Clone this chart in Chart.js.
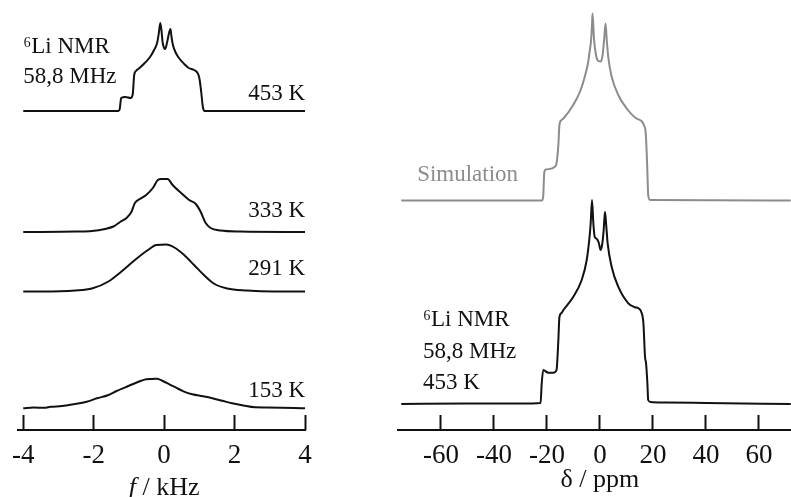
<!DOCTYPE html>
<html>
<head>
<meta charset="utf-8">
<script src="https://cdn.jsdelivr.net/npm/chart.js@4/dist/chart.umd.min.js"></script>
<style>
  html, body { margin: 0; padding: 0; background: #fff; overflow: hidden; }
  #left { position: absolute; left: 0; top: 0; }
  #right { position: absolute; left: 380px; top: 0; }
</style>
</head>
<body>
<canvas id="left" width="330" height="500"></canvas>
<canvas id="right" width="411" height="500"></canvas>
<script>
// left panel: 6Li spectra vs temperature, f in kHz, intensity in arbitrary units
const kHzTicks = [-4, -2, 0, 2, 4];
const spec453 = [[-4,0],[-1.3,0],[-1.26,2],[-1.22,13],[-1.1,14],[-0.95,13],[-0.89,17],[-0.85,36],[-0.8,40],[-0.7,43],[-0.55,48],[-0.4,54],[-0.3,60],[-0.2,68],[-0.15,78],[-0.11,88],[-0.08,82],[-0.04,68],[0,63],[0.03,62],[0.08,68],[0.14,78],[0.18,82],[0.21,74],[0.25,66],[0.32,59],[0.4,54],[0.57,47],[0.7,43],[0.85,41],[0.95,38],[1.0,33],[1.05,20],[1.1,4],[1.15,0],[4,0]];
const spec333 = [[-4,0],[-2.5,0.5],[-2.05,1],[-1.68,3],[-1.44,5.5],[-1.25,10],[-1.07,14],[-0.93,20],[-0.83,29],[-0.69,33],[-0.51,37],[-0.32,44],[-0.18,52],[-0.08,53],[0.1,53],[0.24,47],[0.48,39],[0.71,32],[0.9,28],[1.04,20],[1.18,9],[1.32,4],[1.6,1.5],[2.16,0.5],[4,0]];
const spec291 = [[-4,0],[-3.46,0],[-2.52,1],[-2.05,3],[-1.58,10],[-1.21,20],[-0.83,31.5],[-0.46,41.5],[-0.22,46.5],[0.06,47],[0.29,44],[0.57,36.5],[0.85,26.5],[1.13,16.5],[1.41,8],[1.79,3],[2.35,1],[3.1,0],[4,0]];
const spec153 = [[-4,0],[-3.7,0.8],[-3.4,0.5],[-3.22,1.6],[-2.9,2.2],[-2.57,4],[-2.2,6.5],[-1.91,10],[-1.6,13],[-1.35,17.3],[-1.1,21],[-0.88,24.3],[-0.65,27.5],[-0.51,29],[-0.32,29.3],[-0.2,29.6],[-0.04,27.3],[0.15,24],[0.34,20.6],[0.55,17],[0.8,14],[1.1,12],[1.37,10],[1.65,7.5],[1.93,5],[2.25,2.8],[2.58,1],[2.9,0.8],[3.33,0.6],[3.7,0.3],[4,0]];

// right panel: simulation and 453 K spectrum, delta in ppm
const ppmTicks = [-60, -40, -20, 0, 20, 40, 60];
const specSim = [[-75,0],[-21.8,0],[-21.4,5],[-21.0,28.8],[-20.4,31],[-17,33.8],[-16.4,37],[-15.7,55.5],[-15.3,75.5],[-14.5,80.5],[-13.8,82],[-10.1,95.5],[-7.5,109],[-5.7,124],[-4.4,139],[-3.9,149],[-3.4,159],[-3.0,175.5],[-2.8,187],[-2.26,162],[-1.5,145.5],[-0.6,139.5],[0.25,139],[1.0,145.5],[1.6,162],[2.1,177],[2.6,159],[3.2,142],[4.4,124],[6.9,105.5],[10.1,92],[13.8,82],[17,72.8],[17.4,62],[17.9,28.8],[18.2,5.5],[18.9,0.5],[72,0]];
const specExp = [[-75,0],[-50,0.5],[-30,0.5],[-22.4,1],[-22,20],[-21.4,34],[-19.5,31.3],[-17.6,31.3],[-16.4,34],[-15.7,64],[-15.3,87],[-14.5,91],[-13.8,94],[-10.1,107],[-6.9,124],[-5,144],[-3.8,170.7],[-3.5,180.7],[-3.0,204],[-2.5,180.7],[-2.0,167.3],[-1.5,165.7],[-0.9,164],[-0.4,160.7],[0.25,154],[0.9,160.7],[1.4,174],[1.9,192.3],[2.4,177.3],[2.9,160.7],[4.4,137.3],[6.9,117.3],[10.7,100.7],[13.2,96.7],[14.5,95.7],[15.7,91.3],[16.4,80.7],[17.0,47.3],[17.4,40.7],[17.9,20.7],[18.2,4],[19.1,2],[25,1.5],[40,1],[72,0]];

const serif = '"Liberation Serif", "DejaVu Serif", serif';
Chart.defaults.font.family = serif;
Chart.defaults.color = '#111';

function toPoints(spec, offset) {
    return spec.map(p => ({ x: p[0], y: p[1] + offset }));
}

function line(spec, offset, color) {
    return {
        data: toPoints(spec, offset),
        borderColor: color,
        borderWidth: 2,
        pointRadius: 0,
        cubicInterpolationMode: 'monotone',
        clip: false
    };
}

// axis line under the inward tick marks, text labels and axis title
const decor = {
    id: 'decor',
    afterDraw(chart, args, opts) {
        const { ctx, chartArea, scales: { x, y } } = chart;
        ctx.save();
        ctx.strokeStyle = '#111';
        ctx.lineWidth = 2;
        const ly = chartArea.bottom + 15;
        ctx.beginPath();
        ctx.moveTo(opts.lineFrom, ly);
        ctx.lineTo(opts.lineTo, ly);
        ctx.stroke();

        ctx.textBaseline = 'alphabetic';
        ctx.font = '23px ' + serif;
        opts.labels.forEach(l => {
            ctx.fillStyle = l.color || '#111';
            ctx.textAlign = l.align;
            ctx.fillText(l.text, x.getPixelForValue(l.x), y.getPixelForValue(l.y));
        });

        // axis title, first part may be italic
        ctx.textAlign = 'left';
        const parts = opts.title.parts;
        let total = 0;
        parts.forEach(p => {
            ctx.font = (p.italic ? 'italic ' : '') + '26px ' + serif;
            p.w = ctx.measureText(p.text).width;
            total += p.w;
        });
        let tx = x.getPixelForValue(0) - total / 2;
        parts.forEach(p => {
            ctx.font = (p.italic ? 'italic ' : '') + '26px ' + serif;
            ctx.fillStyle = '#111';
            ctx.fillText(p.text, tx, opts.title.baseline);
            tx += p.w;
        });
        ctx.restore();
    }
};

function makeChart(id, datasets, xMin, xMax, ticks, pad, decorOpts) {
    return new Chart(document.getElementById(id), {
        type: 'line',
        data: { datasets: datasets },
        options: {
            responsive: false,
            animation: false,
            layout: { padding: pad },
            plugins: { legend: { display: false }, tooltip: { enabled: false }, decor: decorOpts },
            scales: {
                x: {
                    type: 'linear',
                    min: xMin,
                    max: xMax,
                    afterBuildTicks: s => { s.ticks = ticks.map(v => ({ value: v })); },
                    border: { display: false },
                    grid: { drawOnChartArea: false, drawTicks: true, tickLength: 15, tickWidth: 2, tickColor: '#111' },
                    ticks: { padding: 12, maxRotation: 0, autoSkip: false, color: '#111', font: { size: 27, lineHeight: 1 } }
                },
                y: { display: false, min: 0, max: 415 }
            }
        },
        plugins: [decor]
    });
}

makeChart('left', [
    line(spec453, 304, '#111'),
    line(spec333, 183, '#111'),
    line(spec291, 123.5, '#111'),
    line(spec153, 6.7, '#111')
], -4, 4, kHzTicks, { left: 21, right: 25, top: 0, bottom: 19 }, {
    lineFrom: 17, lineTo: 306,
    labels: [
        { text: '\u2076Li NMR', x: -4, y: 361.7, align: 'left' },
        { text: '58,8 MHz', x: -4, y: 331.7, align: 'left' },
        { text: '453 K', x: 4, y: 315, align: 'right' },
        { text: '333 K', x: 4, y: 198.3, align: 'right' },
        { text: '291 K', x: 4, y: 140, align: 'right' },
        { text: '153 K', x: 4, y: 18.3, align: 'right' }
    ],
    title: { baseline: 495, parts: [{ text: 'f', italic: true }, { text: ' / kHz' }] }
});

makeChart('right', [
    line(specSim, 214.5, '#8c8c8c'),
    line(specExp, 11, '#111')
], -76.6, 72.1, ppmTicks, { left: 17, right: 0, top: 0, bottom: 19 }, {
    lineFrom: 17, lineTo: 411,
    labels: [
        { text: 'Simulation', x: -69, y: 234, align: 'left', color: '#8c8c8c' },
        { text: '\u2076Li NMR', x: -66.8, y: 89, align: 'left' },
        { text: '58,8 MHz', x: -66.8, y: 57, align: 'left' },
        { text: '453 K', x: -66.8, y: 26, align: 'left' }
    ],
    title: { baseline: 487, parts: [{ text: '\u03b4 / ppm' }] }
});
</script>
</body>
</html>
